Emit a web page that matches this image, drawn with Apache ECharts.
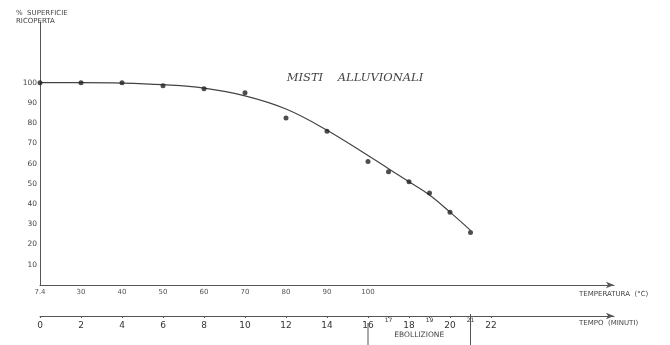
<!DOCTYPE html>
<html><head><meta charset="utf-8">
<script src="https://cdn.jsdelivr.net/npm/echarts@6/dist/echarts.min.js"></script>
<style>html,body{margin:0;padding:0;background:#fff}#c{width:670px;height:345px}</style>
</head><body><div id="c"></div>
<script>
const pointTimes = [0, 2, 4, 6, 8, 10, 12, 14, 16, 17, 18, 19, 20, 21];
const pointValues = [100, 100, 100, 98.5, 97, 95, 82.5, 76, 61, 56, 51, 45.5, 36, 26];
const curveTimes = [0, 2, 4, 6, 8, 10, 12, 14, 16, 17, 18, 19, 20, 21];
const curveValues = [100, 100, 99.8, 99, 97.3, 93.5, 87, 76.5, 64, 57.5, 51, 44.5, 36, 27];
const timeTicks = [0, 2, 4, 6, 8, 10, 12, 14, 16, 18, 20, 22];
const timeMinorTicks = [17, 19, 21];
const tempTickTimes = [0, 2, 4, 6, 8, 10, 12, 14, 16];
const tempLabels = ['7.4', '30', '40', '50', '60', '70', '80', '90', '100'];
const yTicks = [10, 20, 30, 40, 50, 60, 70, 80, 90, 100];
const boilStart = 16, boilEnd = 21;

const axisColor = '#555';
const font = 'DejaVu Sans';
const chart = echarts.init(document.getElementById('c'), null, {renderer: 'canvas'});

chart.setOption({
  backgroundColor: '#fff',
  animation: false,
  title: [
    {text: '%  SUPERFICIE\nRICOPERTA', left: 16, top: 9, padding: 0,
     textStyle: {fontFamily: font, fontSize: 7, fontWeight: 'normal', color: '#444', lineHeight: 8}},
    {text: 'MISTI    ALLUVIONALI', left: 355, top: 72, padding: 0, textAlign: 'center',
     textStyle: {fontFamily: 'DejaVu Serif', fontStyle: 'italic', fontSize: 11.5, fontWeight: 'normal', color: '#444'}}
  ],
  grid: {left: 40, right: 56, top: 22, bottom: 60, containLabel: false},
  xAxis: [
    {type: 'value', min: 0, max: 28, position: 'bottom', offset: 0,
     axisLine: {show: true, symbol: ['none', 'arrow'], symbolSize: [5, 8], lineStyle: {color: axisColor, width: 1}},
     axisTick: {show: false},
     splitLine: {show: false},
     axisLabel: {customValues: tempTickTimes, margin: 4, fontFamily: font, fontSize: 7, color: '#555',
       formatter: v => tempLabels[tempTickTimes.indexOf(v)] || ''},
     name: 'TEMPERATURA  (°C)', nameLocation: 'end', nameGap: -35,
     nameTextStyle: {fontFamily: font, fontSize: 7, color: '#444', align: 'left', verticalAlign: 'top', padding: [6, 0, 0, 0]}
    },
    {type: 'value', min: 0, max: 28, position: 'bottom', offset: 31,
     axisLine: {show: true, symbol: ['none', 'arrow'], symbolSize: [5, 8], lineStyle: {color: axisColor, width: 1}},
     axisTick: {show: true, customValues: timeTicks.concat(timeMinorTicks), length: 2, lineStyle: {color: axisColor}},
     splitLine: {show: false},
     axisLabel: {customValues: timeTicks, margin: 5, fontFamily: font, fontSize: 9, color: '#333'},
     name: 'TEMPO  (MINUTI)', nameLocation: 'end', nameGap: -35,
     nameTextStyle: {fontFamily: font, fontSize: 7, color: '#444', align: 'left', verticalAlign: 'top', padding: [4, 0, 0, 0]}
    },
    {type: 'value', min: 0, max: 28, position: 'bottom', offset: 31,
     axisLine: {show: false}, axisTick: {show: false}, splitLine: {show: false},
     axisLabel: {customValues: timeMinorTicks, margin: 1, fontFamily: font, fontSize: 6, color: '#333'}
    }
  ],
  yAxis: {
    type: 'value', min: 0, max: 130,
    axisLine: {show: true, lineStyle: {color: axisColor, width: 1}},
    axisTick: {show: false},
    splitLine: {show: false},
    axisLabel: {customValues: yTicks, margin: 3, fontFamily: font, fontSize: 7.5, color: '#444'}
  },
  series: [
    {type: 'line', xAxisIndex: 1, data: curveTimes.map((t, i) => [t, curveValues[i]]),
     smooth: 0.4, showSymbol: false, lineStyle: {color: '#444', width: 1.2}, z: 2},
    {type: 'scatter', xAxisIndex: 1, data: pointTimes.map((t, i) => [t, pointValues[i]]),
     symbolSize: 5, itemStyle: {color: '#222'}, z: 3}
  ]
});

const yAxisBase = chart.convertToPixel({yAxisIndex: 0}, 0) + 31;
const xs = chart.convertToPixel({xAxisIndex: 1}, boilStart);
const xe = chart.convertToPixel({xAxisIndex: 1}, boilEnd);
chart.setOption({
  graphic: [
    {type: 'line', shape: {x1: xs, y1: yAxisBase + 7, x2: xs, y2: 345}, style: {stroke: '#555', lineWidth: 1}},
    {type: 'line', shape: {x1: xe, y1: yAxisBase - 2, x2: xe, y2: 345}, style: {stroke: '#555', lineWidth: 1}},
    {type: 'text', x: (xs + xe) / 2, y: yAxisBase + 19,
     style: {text: 'EBOLLIZIONE', fontFamily: font, fontSize: 7.5, fill: '#444', align: 'center', verticalAlign: 'middle'}}
  ]
});
</script>
</body></html>
